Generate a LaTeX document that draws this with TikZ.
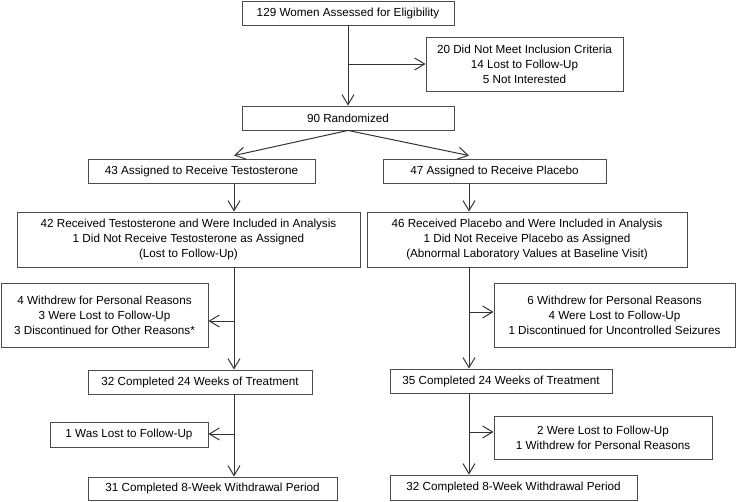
\documentclass[tikz,border=0pt]{standalone}
\usepackage{fontspec}
\setmainfont{Liberation Sans}
\usetikzlibrary{arrows.meta}

\begin{document}
\begin{tikzpicture}[x=1pt,y=-1pt,>={Straight Barb[length=10pt,width=12pt]}] %% flow chart
	\tikzstyle{box}=[rectangle,draw=black!70,line width=0.9pt,inner sep=0pt,align=center,font=\fontsize{11.7}{15}\selectfont];
	\tikzstyle{flow}=[->,draw=black!80,line width=1pt];
	\useasboundingbox (0,0) rectangle (739,501);
	\coordinate (colT) at (234,0);
	\coordinate (colP) at (469,0);
	\node[box,minimum width=212pt,minimum height=24pt] (elig) at (348,13) {129 Women Assessed for Eligibility};
	\node[box,minimum width=197pt,minimum height=54pt] (excl) at (524.5,64) {20 Did Not Meet Inclusion Criteria\\14 Lost to Follow-Up\\5 Not Interested};
	\node[box,minimum width=212pt,minimum height=24pt] (rand) at (348,118) {90 Randomized};
	\node[box,minimum width=227pt,minimum height=24pt] (asgT) at (201.5,171) {43 Assigned to Receive Testosterone};
	\node[box,minimum width=223pt,minimum height=24pt] (asgP) at (494.5,171) {47 Assigned to Receive Placebo};
	\node[box,minimum width=343pt,minimum height=55pt] (recT) at (188.5,239.5) {42 Received Testosterone and Were Included in Analysis\\1 Did Not Receive Testosterone as Assigned\\(Lost to Follow-Up)};
	\node[box,minimum width=320pt,minimum height=55pt] (recP) at (527,239.5) {46 Received Placebo and Were Included in Analysis\\1 Did Not Receive Placebo as Assigned\\(Abnormal Laboratory Values at Baseline Visit)};
	\node[box,minimum width=207pt,minimum height=64pt] (wdT) at (104.5,315) {4 Withdrew for Personal Reasons\\3 Were Lost to Follow-Up\\3 Discontinued for Other Reasons*};
	\node[box,minimum width=241pt,minimum height=64pt] (wdP) at (614.5,315) {6 Withdrew for Personal Reasons\\4 Were Lost to Follow-Up\\1 Discontinued for Uncontrolled Seizures};
	\node[box,minimum width=224pt,minimum height=24pt] (doneT) at (200,382) {32 Completed 24 Weeks of Treatment};
	\node[box,minimum width=222pt,minimum height=24pt] (doneP) at (501,381) {35 Completed 24 Weeks of Treatment};
	\node[box,minimum width=158pt,minimum height=25pt] (lostT) at (129,434.5) {1 Was Lost to Follow-Up};
	\node[box,minimum width=218pt,minimum height=43pt] (lostP) at (603,437.5) {2 Were Lost to Follow-Up\\1 Withdrew for Personal Reasons};
	\node[box,minimum width=249pt,minimum height=23pt] (endT) at (212.5,488.5) {31 Completed 8-Week Withdrawal Period};
	\node[box,minimum width=247pt,minimum height=25pt] (endP) at (513.5,487.5) {32 Completed 8-Week Withdrawal Period};
	% screening and randomization
	\draw[flow] (elig.south) -- (rand.north);
	\draw[flow] (elig.south |- excl.west) -- (excl.west);
	\draw[flow] (rand.south) -- ([yshift=3pt]asgT.north -| colT);
	\draw[flow] (rand.south) -- ([yshift=3pt]asgP.north -| colP);
	% testosterone arm
	\coordinate (brT1) at (234,321);
	\coordinate (brT2) at (234,434);
	\draw[flow] (asgT.south -| colT) -- (recT.north -| colT);
	\draw[flow] (recT.south -| colT) -- (doneT.north -| colT);
	\draw[flow] (doneT.south -| colT) -- (endT.north -| colT);
	\draw[flow] (brT1) -- (brT1 -| wdT.east);
	\draw[flow] (brT2) -- (brT2 -| lostT.east);
	% placebo arm
	\coordinate (brP1) at (469,312);
	\coordinate (brP2) at (469,432);
	\draw[flow] (asgP.south -| colP) -- (recP.north -| colP);
	\draw[flow] (recP.south -| colP) -- (doneP.north -| colP);
	\draw[flow] (doneP.south -| colP) -- (endP.north -| colP);
	\draw[flow] (brP1) -- (brP1 -| wdP.west);
	\draw[flow] (brP2) -- (brP2 -| lostP.west);
\end{tikzpicture}
\end{document}
